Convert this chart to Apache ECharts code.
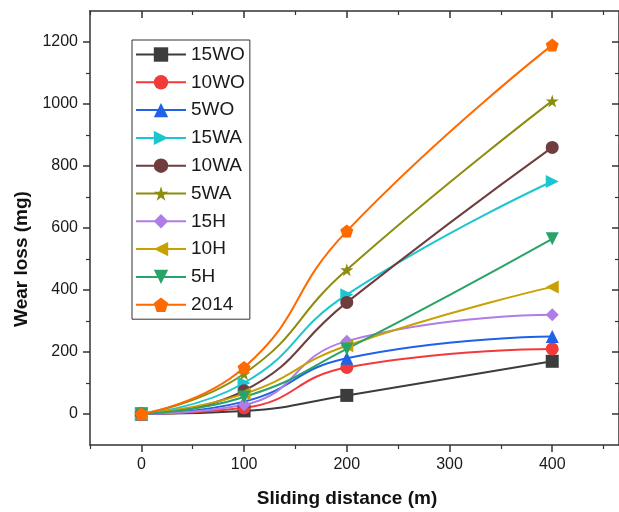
<!DOCTYPE html>
<html>
<head>
<meta charset="utf-8">
<script src="https://cdn.jsdelivr.net/npm/echarts@6/dist/echarts.min.js"></script>
<style>
html, body { margin: 0; padding: 0; background: #fff; }
#chart { width: 619px; height: 512px; }
</style>
</head>
<body>
<div id="chart"></div>
<script>
// sliding distance (m)
const distances = [0, 100, 200, 400]

// wear loss (mg) per sample
const wo15 = [0, 10, 60, 170]
const wo10 = [0, 20, 150, 210]
const wo5 = [0, 40, 180, 250]
const wa15 = [0, 100, 385, 750]
const wa10 = [0, 75, 360, 860]
const wa5 = [0, 130, 465, 1010]
const h15 = [0, 30, 235, 320]
const h10 = [0, 65, 220, 410]
const h5 = [0, 55, 210, 565]
const s2014 = [0, 150, 590, 1190]

const xTicks = [0, 100, 200, 300, 400]
const xMinorTicks = [-50, 50, 150, 250, 350, 450]
const yTicks = [0, 200, 400, 600, 800, 1000, 1200]
const yMinorTicks = [100, 300, 500, 700, 900, 1100]

const starPath = "path://M50,0 L61,35 L98,35 L68,57 L79,91 L50,70 L21,91 L32,57 L2,35 L39,35 Z"
const pentagonPath = "path://M50,0 L98,35 L79,91 L21,91 L2,35 Z"

const seriesDefs = [
	{ name: "15WO", data: wo15, color: "#3c3c3c", symbol: "rect", rotate: 0 },
	{ name: "10WO", data: wo10, color: "#f23a3a", symbol: "circle", rotate: 0 },
	{ name: "5WO", data: wo5, color: "#1f62e8", symbol: "triangle", rotate: 0 },
	{ name: "15WA", data: wa15, color: "#1cc6cf", symbol: "triangle", rotate: -90 },
	{ name: "10WA", data: wa10, color: "#6f3d3d", symbol: "circle", rotate: 0 },
	{ name: "5WA", data: wa5, color: "#8c8c0f", symbol: starPath, rotate: 0 },
	{ name: "15H", data: h15, color: "#b07de6", symbol: "diamond", rotate: 0 },
	{ name: "10H", data: h10, color: "#c9a002", symbol: "triangle", rotate: 90 },
	{ name: "5H", data: h5, color: "#2aa368", symbol: "triangle", rotate: 180 },
	{ name: "2014", data: s2014, color: "#ff6a00", symbol: pentagonPath, rotate: 0 },
]

const font = "Liberation Sans, Arial, sans-serif"
const axisColor = "#333"

const series = seriesDefs.map(s => ({
	name: s.name,
	type: "line",
	smooth: 0.5,
	data: distances.map((d, i) => [d, s.data[i]]),
	symbol: s.symbol,
	symbolRotate: s.rotate,
	symbolSize: 13,
	lineStyle: { color: s.color, width: 2 },
	itemStyle: { color: s.color },
}))

// helper for the frame axes (ticks only)
const frameAxis = (extra) => Object.assign({
	type: "value",
	axisLine: { show: false, onZero: false },
	axisLabel: { show: false },
	splitLine: { show: false },
}, extra)

const axisLine = { show: true, onZero: false, lineStyle: { color: axisColor, width: 1.5 } }
const xRange = { min: -50, max: 465, interval: 50 }
const yRange = { min: -100, max: 1300, interval: 100 }

const option = {
	animation: false,
	backgroundColor: "#fff",
	grid: { left: 90, right: 0, top: 11, bottom: 67 },
	legend: {
		orient: "vertical",
		left: 132,
		top: 40,
		padding: [5, 5, 5, 3],
		itemWidth: 50,
		itemHeight: 18,
		itemGap: 8.8,
		borderColor: "#333",
		borderWidth: 1,
		textStyle: { fontSize: 19, color: "#1a1a1a", fontFamily: font },
		data: seriesDefs.map(s => s.name),
	},
	xAxis: [
		Object.assign({}, xRange, {
			type: "value",
			position: "bottom",
			axisLine: axisLine,
			axisTick: { show: true, length: 7, customValues: xTicks, lineStyle: { color: axisColor, width: 1.5 } },
			axisLabel: { customValues: xTicks, fontSize: 16, color: "#1a1a1a", fontFamily: font, margin: 12, formatter: v => String(v) },
			splitLine: { show: false },
		}),
		frameAxis(Object.assign({}, xRange, {
			position: "bottom",
			axisTick: { show: true, length: 4, customValues: xMinorTicks, lineStyle: { color: axisColor, width: 1.2 } },
		})),
		Object.assign({}, xRange, {
			type: "value",
			position: "top",
			axisLine: axisLine,
			axisTick: { show: true, inside: true, length: 7, customValues: xTicks, lineStyle: { color: axisColor, width: 1.5 } },
			axisLabel: { show: false },
			splitLine: { show: false },
		}),
		frameAxis(Object.assign({}, xRange, {
			position: "top",
			axisTick: { show: true, inside: true, length: 4, customValues: xMinorTicks, lineStyle: { color: axisColor, width: 1.2 } },
		})),
	],
	yAxis: [
		Object.assign({}, yRange, {
			type: "value",
			position: "left",
			axisLine: axisLine,
			axisTick: { show: true, length: 7, customValues: yTicks, lineStyle: { color: axisColor, width: 1.5 } },
			axisLabel: { customValues: yTicks, fontSize: 16, color: "#1a1a1a", fontFamily: font, margin: 12, formatter: v => String(v) },
			splitLine: { show: false },
		}),
		frameAxis(Object.assign({}, yRange, {
			position: "left",
			axisTick: { show: true, length: 4, customValues: yMinorTicks, lineStyle: { color: axisColor, width: 1.2 } },
		})),
		Object.assign({}, yRange, {
			type: "value",
			position: "right",
			axisLine: axisLine,
			axisTick: { show: true, inside: true, length: 7, customValues: yTicks, lineStyle: { color: axisColor, width: 1.5 } },
			axisLabel: { show: false },
			splitLine: { show: false },
		}),
		frameAxis(Object.assign({}, yRange, {
			position: "right",
			axisTick: { show: true, inside: true, length: 4, customValues: yMinorTicks, lineStyle: { color: axisColor, width: 1.2 } },
		})),
	],
	graphic: [
		{
			type: "text",
			x: 347,
			y: 499,
			style: {
				text: "Sliding distance (m)",
				font: "bold 19px " + font,
				fill: "#111",
				textAlign: "center",
				textVerticalAlign: "middle",
			},
		},
		{
			type: "text",
			x: 22,
			y: 259,
			rotation: Math.PI / 2,
			style: {
				text: "Wear loss (mg)",
				font: "bold 19px " + font,
				fill: "#111",
				textAlign: "center",
				textVerticalAlign: "middle",
			},
		},
	],
	series: series,
}

const chart = echarts.init(document.getElementById("chart"))
chart.setOption(option)
</script>
</body>
</html>
